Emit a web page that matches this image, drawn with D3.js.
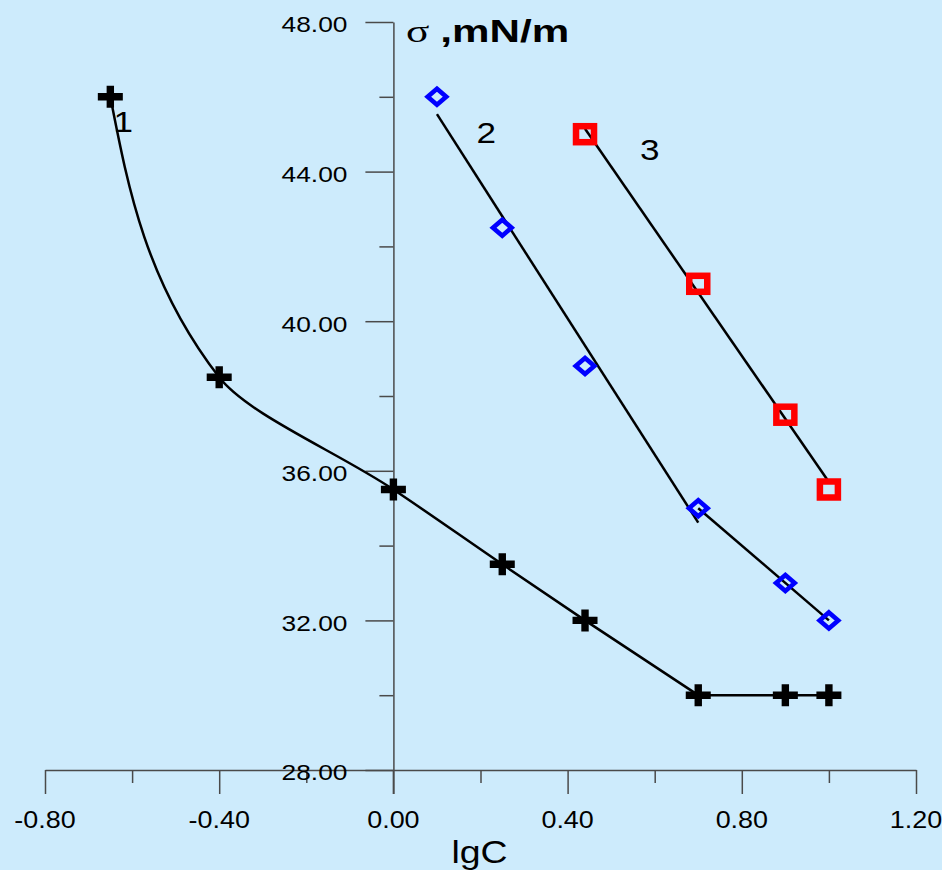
<!DOCTYPE html>
<html>
<head>
<meta charset="utf-8">
<script src="https://cdn.jsdelivr.net/npm/d3@7"></script>
<style>
  html, body { margin: 0; padding: 0; background: #cdebfc; }
  svg { display: block; }
</style>
</head>
<body>
<svg id="chart" width="942" height="870"></svg>
<script>
// curve 1 (crosses)
let lgc_1 = [-0.65, -0.40, 0.00, 0.25, 0.44, 0.70, 0.90, 1.00];
let sigma_1 = [46.0, 38.5, 35.5, 33.5, 32.0, 30.0, 30.0, 30.0];
// curve 2 (diamonds)
let lgc_2 = [0.10, 0.25, 0.44, 0.70, 0.90, 1.00];
let sigma_2 = [46.0, 42.5, 38.8, 35.0, 33.0, 32.0];
// curve 3 (squares)
let lgc_3 = [0.44, 0.70, 0.90, 1.00];
let sigma_3 = [45.0, 41.0, 37.5, 35.5];

let x_ticks = [-0.8, -0.4, 0.0, 0.4, 0.8, 1.2];
let y_ticks = [28, 32, 36, 40, 44, 48];

let curve_names = ['1', '2', '3'];
let name_x = [-0.6425, 0.191, 0.566];
let name_y = [45.06, 44.77, 44.31];

let font = '"Liberation Sans", Arial, sans-serif';
let stretch = 1.17;   // the original lettering is a bit wide

let svg = d3.select('#chart');

let x = d3.scaleLinear().domain([-0.8, 1.2]).range([45, 916]);
let y = d3.scaleLinear().domain([28, 48]).range([770, 22]);

var zip = function(xs, ys) {
  return xs.map((v, i) => ({x: v, y: ys[i]}));
};
let pts_1 = zip(lgc_1, sigma_1);
let pts_2 = zip(lgc_2, sigma_2);
let pts_3 = zip(lgc_3, sigma_3);

// least squares line over a set of points, drawn from first to last x
var fit = function(pts) {
  let mx = d3.mean(pts, d => d.x), my = d3.mean(pts, d => d.y);
  let sxy = d3.sum(pts, d => (d.x - mx) * (d.y - my));
  let sxx = d3.sum(pts, d => (d.x - mx) * (d.x - mx));
  let b = sxy / sxx;
  let x0 = pts[0].x, x1 = pts[pts.length - 1].x;
  return [{x: x0, y: my + b * (x0 - mx)}, {x: x1, y: my + b * (x1 - mx)}];
};

var fmt = function(d) {
  return d3.format('.2f')(d).replace('\u2212', '-');
};

// axes
let axis_color = '#4a4a4a';
let x_axis = svg.append('g')
  .attr('transform', 'translate(0,' + y(28) + ')')
  .call(d3.axisBottom(x).tickValues(d3.range(-0.8, 1.21, 0.2)).tickSize(13).tickSizeOuter(0).tickFormat(''));
x_axis.selectAll('.tick line')
  .filter((d, i) => i % 2 == 0)
  .attr('y2', 24);

let y_axis = svg.append('g')
  .attr('transform', 'translate(' + x(0) + ',0)')
  .call(d3.axisLeft(y).tickValues(d3.range(28, 48.1, 2)).tickSize(14).tickSizeOuter(0).tickFormat(''));
y_axis.selectAll('.tick line')
  .filter((d, i) => i % 2 == 0)
  .attr('x2', -28);

svg.selectAll('.domain').attr('stroke', axis_color).attr('stroke-width', 1.5);
svg.selectAll('.tick line').attr('stroke', axis_color).attr('stroke-width', 1.5);
// y axis runs down to the 0.00 tick below the x axis
svg.append('line')
  .attr('x1', x(0)).attr('x2', x(0))
  .attr('y1', y(28)).attr('y2', y(28) + 24)
  .attr('stroke', axis_color).attr('stroke-width', 1.5);

svg.selectAll('.x-label')
  .data(x_ticks)
  .enter().append('text')
    .attr('class', 'x-label')
    .attr('transform', d => 'translate(' + x(d) + ',' + (y(28) + 58) + ') scale(' + stretch + ',1)')
    .attr('text-anchor', 'middle')
    .style('font-family', font)
    .style('font-size', '23px')
    .text(fmt);

svg.selectAll('.y-label')
  .data(y_ticks)
  .enter().append('text')
    .attr('class', 'y-label')
    .attr('transform', d => 'translate(' + (x(0) - 46) + ',' + (y(d) + 10.3) + ') scale(' + stretch + ',1)')
    .attr('text-anchor', 'end')
    .style('font-family', font)
    .style('font-size', '22.5px')
    .text(fmt);

svg.append('text')
  .attr('transform', 'translate(479.5,863) scale(' + stretch + ',1)')
  .attr('text-anchor', 'middle')
  .style('font-family', font)
  .style('font-size', '32px')
  .text('lgC');

let title = svg.append('text')
  .attr('transform', 'translate(406,42.3) scale(1.36,1)')
  .style('font-family', font)
  .style('font-size', '31px');
title.append('tspan')
  .style('font-family', '"Liberation Serif", "DejaVu Serif", serif')
  .style('font-size', '32px')
  .text('σ ');
title.append('tspan')
  .style('font-weight', 'bold')
  .text(',mN/m');

// lines
let line = d3.line().x(d => x(d.x)).y(d => y(d.y));
let smooth = d3.line().x(d => x(d.x)).y(d => y(d.y)).curve(d3.curveMonotoneY);

let lines = svg.append('g')
  .attr('fill', 'none')
  .attr('stroke', '#000')
  .attr('stroke-width', 2.5);
// curve 1: smooth while sigma falls, straight on the plateau
lines.append('path').attr('d', smooth(pts_1.slice(0, 6)));
lines.append('path').attr('d', line(pts_1.slice(5)));
lines.append('path').attr('d', line(fit(pts_2.slice(0, 4))));
lines.append('path').attr('d', line(fit(pts_2.slice(3))));
lines.append('path').attr('d', line(fit(pts_3)));

// markers
svg.selectAll('.cross')
  .data(pts_1)
  .enter().append('path')
    .attr('class', 'cross')
    .attr('transform', d => 'translate(' + x(d.x) + ',' + y(d.y) + ')')
    .attr('d', 'M-12.5,-3.7H-3.7V-11H3.7V-3.7H12.5V3.7H3.7V11H-3.7V3.7H-12.5Z')
    .attr('fill', '#000');

svg.selectAll('.diamond')
  .data(pts_2)
  .enter().append('path')
    .attr('class', 'diamond')
    .attr('transform', d => 'translate(' + x(d.x) + ',' + y(d.y) + ')')
    .attr('d', 'M0,-8L9.3,0L0,8L-9.3,0Z')
    .attr('fill', 'none')
    .attr('stroke', '#0000ff')
    .attr('stroke-width', 4.6);

svg.selectAll('.square')
  .data(pts_3)
  .enter().append('rect')
    .attr('class', 'square')
    .attr('x', d => x(d.x) - 9)
    .attr('y', d => y(d.y) - 8)
    .attr('width', 18)
    .attr('height', 16)
    .attr('fill', 'none')
    .attr('stroke', '#ff0000')
    .attr('stroke-width', 6.5);

// curve numbers
svg.selectAll('.curve-name')
  .data(curve_names)
  .enter().append('text')
    .attr('class', 'curve-name')
    .attr('transform', (d, i) => 'translate(' + x(name_x[i]) + ',' + y(name_y[i]) + ') scale(' + stretch + ',1)')
    .style('font-family', font)
    .style('font-size', '30px')
    .text(d => d);
</script>
</body>
</html>
